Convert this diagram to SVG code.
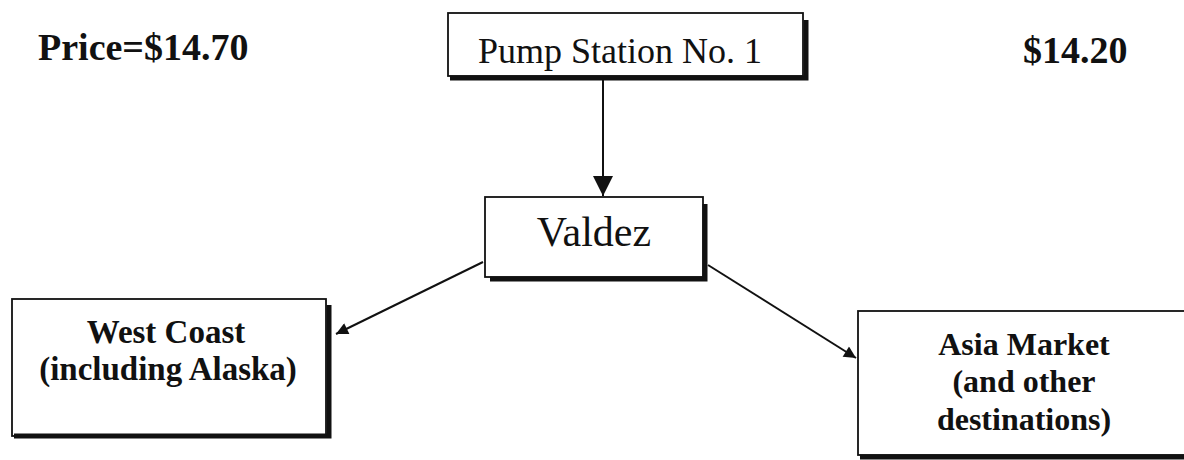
<svg xmlns="http://www.w3.org/2000/svg" width="1184" height="460" viewBox="0 0 1184 460">
<style>
.box{fill:none;stroke:#111;stroke-width:1.8}
.shadow{fill:none;stroke:#111;stroke-width:5}
.conn{stroke:#111;stroke-width:2;fill:none}
.b{font-family:"Liberation Serif","Times New Roman",serif;font-weight:bold;fill:#111}
.r{font-family:"Liberation Serif","Times New Roman",serif;fill:#111}
</style>
<defs>
<marker id="ah" viewBox="0 0 10 10" refX="10" refY="5" markerWidth="14" markerHeight="12" markerUnits="userSpaceOnUse" orient="auto">
<path d="M0,0 L10,5 L0,10 z" fill="#111"/>
</marker>
<marker id="ahBig" viewBox="0 0 10 10" refX="10" refY="5" markerWidth="22" markerHeight="20" markerUnits="userSpaceOnUse" orient="auto">
<path d="M0,0 L10,5 L0,10 z" fill="#111"/>
</marker>
</defs>
<rect width="1184" height="460" fill="#fff"/>
<text class="b" x="38" y="60" font-size="38">Price=$14.70</text>
<text class="b" x="1023" y="63" font-size="38">$14.20</text>
<g id="pump">
<rect class="box" x="448" y="13" width="355" height="63"/>
<polyline class="shadow" points="806,20 806,78 450,78"/>
<text class="r" x="620" y="63" font-size="36" text-anchor="middle">Pump Station No. 1</text>
</g>
<g id="valdez">
<rect class="box" x="485" y="197" width="218" height="80"/>
<polyline class="shadow" points="705,204 705,279 490,279"/>
<text class="r" x="594" y="246" font-size="42" text-anchor="middle">Valdez</text>
</g>
<g id="westcoast">
<rect class="box" x="12" y="299" width="314" height="137"/>
<polyline class="shadow" points="329,305 329,436 14,436"/>
<text class="b" x="166" y="343" font-size="33" text-anchor="middle">West Coast</text>
<text class="b" x="168" y="380" font-size="33" text-anchor="middle">(including Alaska)</text>
</g>
<g id="asia">
<rect class="box" x="858" y="311" width="350" height="144"/>
<polyline class="shadow" points="860,457 1190,457"/>
<text class="b" x="1024" y="355" font-size="32" text-anchor="middle">Asia Market</text>
<text class="b" x="1024" y="392" font-size="32" text-anchor="middle">(and other</text>
<text class="b" x="1024" y="430" font-size="32" text-anchor="middle">destinations)</text>
</g>
<g id="connectors">
<line class="conn" x1="603" y1="80" x2="603" y2="196" marker-end="url(#ahBig)"/>
<line class="conn" x1="483" y1="262" x2="336" y2="334" marker-end="url(#ah)"/>
<line class="conn" x1="708" y1="265" x2="856" y2="358" marker-end="url(#ah)"/>
</g>
</svg>
